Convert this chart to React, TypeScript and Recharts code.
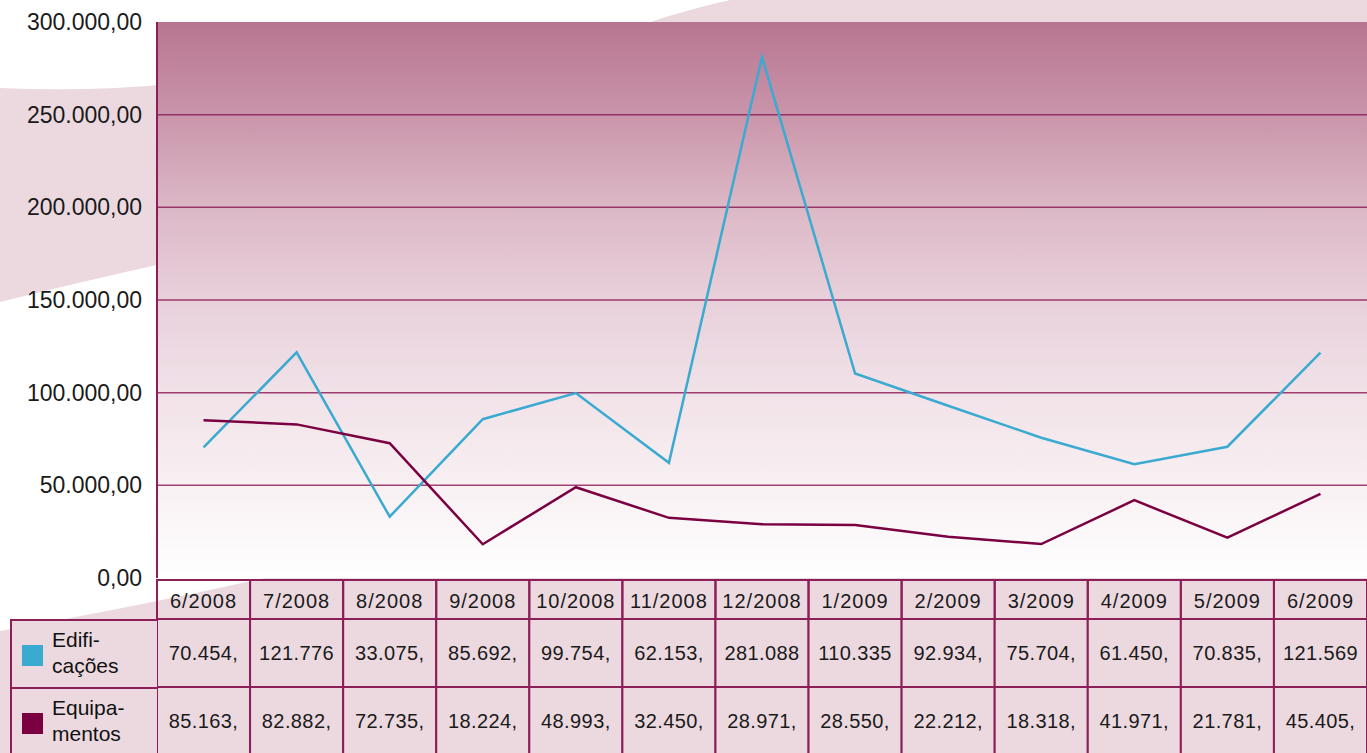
import React from "react";
import { LineChart, Line, XAxis, YAxis, CartesianGrid, Legend } from "recharts";

const months = [
  "6/2008", "7/2008", "8/2008", "9/2008", "10/2008", "11/2008", "12/2008",
  "1/2009", "2/2009", "3/2009", "4/2009", "5/2009", "6/2009",
];
const edificacoes = [70454, 121776, 33075, 85692, 99754, 62153, 281088, 110335, 92934, 75704, 61450, 70835, 121569];
const equipamentos = [85163, 82882, 72735, 18224, 48993, 32450, 28971, 28550, 22212, 18318, 41971, 21781, 45405];
const yTicks = [0, 50000, 100000, 150000, 200000, 250000, 300000];
const gridValues = [50000, 100000, 150000, 200000, 250000];

const W = 1367;
const H = 753;
const LEFT = 157;
const TOP = 22;
const AXIS_H = 175;
const COL_W = (W - LEFT) / months.length;

const BLUE = "#3aaad1";
const WINE = "#7a0042";
const BORDER = "#8d1f58";
const PINK = "#ecd9e0";
const FONT = "'Liberation Sans', Arial, sans-serif";

const data = months.map((m, i) => ({ month: m, edif: edificacoes[i], equip: equipamentos[i] }));

// 70454 -> "70.454,00"
function fmtBR(v: number) {
  return String(Math.round(v)).replace(/\B(?=(\d{3})+(?!\d))/g, ".") + ",00";
}
// table cells are cut to 7 chars in the source
const cellText = (v: number) => fmtBR(v).slice(0, 7);

function TableTick(props: any) {
  const { x, y, payload, index } = props;
  const left = x - COL_W / 2;
  const row = data[index];
  const txt = { fontFamily: FONT, fontSize: 20, fill: "#1a1a1a", textAnchor: "middle" as const };
  return (
    <g>
      <rect x={left} y={y + 2} width={COL_W} height={39} fill="none" stroke={BORDER} strokeWidth={2} />
      <text x={x} y={y + 30} {...txt} letterSpacing={1}>{payload.value}</text>
      <rect x={left} y={y + 41} width={COL_W} height={68} fill={PINK} stroke={BORDER} strokeWidth={2} />
      <text x={x} y={y + 82} {...txt} letterSpacing={0.4}>{cellText(row.edif)}</text>
      <rect x={left} y={y + 109} width={COL_W} height={70} fill={PINK} stroke={BORDER} strokeWidth={2} />
      <text x={x} y={y + 150} {...txt} letterSpacing={0.4}>{cellText(row.equip)}</text>
    </g>
  );
}

const legendRows = [
  { color: BLUE, lines: ["Edifi-", "cações"] },
  { color: WINE, lines: ["Equipa-", "mentos"] },
];

function TableLegend() {
  return (
    <div style={{ position: "relative", width: 147, height: 136, fontFamily: FONT }}>
      {legendRows.map((r, i) => (
        <div
          key={i}
          style={{
            position: "absolute",
            left: 0,
            top: i * 68,
            width: 147,
            height: 68,
            boxSizing: "border-box",
            background: PINK,
            borderLeft: `2px solid ${BORDER}`,
            borderTop: `2px solid ${BORDER}`,
          }}
        >
          <div style={{ position: "absolute", left: 10, top: 24, width: 21, height: 21, background: r.color }} />
          <div style={{ position: "absolute", left: 40, top: 6, fontSize: 21, lineHeight: "26px", color: "#111", fontWeight: 500 }}>
            {r.lines[0]}
            <br />
            {r.lines[1]}
          </div>
        </div>
      ))}
    </div>
  );
}

function Backdrop() {
  return (
    <svg width={W} height={H} style={{ position: "absolute", left: 0, top: 0 }}>
      <path d="M0,88 Q90,92 170,84 L170,262 Q80,282 0,302 Z" fill={PINK} />
      <path d="M650,22 Q690,9 730,0 L1367,0 L1367,22 Z" fill={PINK} />
      <path d="M0,631 Q140,606 265,578 L1367,560 L1367,753 L0,753 Z" fill={PINK} />
    </svg>
  );
}

export default function App() {
  return (
    <div style={{ position: "absolute", left: 0, top: 0, width: W, height: H, background: "#fff", overflow: "hidden" }}>
      <Backdrop />
      <div style={{ position: "absolute", left: 0, top: 0 }}>
        <LineChart width={W} height={H} data={data} margin={{ top: TOP, right: 0, bottom: 0, left: 0 }}>
          <defs>
            <linearGradient id="plotBg" x1="0" y1="0" x2="0" y2="1">
              <stop offset="0" stopColor="#b87590" />
              <stop offset="0.167" stopColor="#c995aa" />
              <stop offset="0.333" stopColor="#dcb8c6" />
              <stop offset="0.5" stopColor="#e8d0da" />
              <stop offset="0.667" stopColor="#f1e2e8" />
              <stop offset="0.833" stopColor="#f8f0f3" />
              <stop offset="1" stopColor="#ffffff" />
            </linearGradient>
          </defs>
          <CartesianGrid
            vertical={false}
            horizontalValues={gridValues}
            fill="url(#plotBg)"
            fillOpacity={1}
            stroke="#8a1550"
            strokeOpacity={0.8}
            strokeWidth={1.5}
          />
          <XAxis
            dataKey="month"
            height={AXIS_H}
            padding={{ left: COL_W / 2, right: COL_W / 2 }}
            axisLine={false}
            tickLine={false}
            tickSize={0}
            tickMargin={0}
            interval={0}
            tick={<TableTick />}
          />
          <YAxis
            width={LEFT}
            domain={[0, 300000]}
            ticks={yTicks}
            tickFormatter={fmtBR}
            axisLine={{ stroke: BORDER, strokeWidth: 2 }}
            tickLine={false}
            tickMargin={9}
            tick={{ fontFamily: FONT, fontSize: 23, fill: "#1a1a1a" }}
          />
          <Line type="linear" dataKey="edif" name="Edificações" stroke={BLUE} strokeWidth={2.5} dot={false} isAnimationActive={false} />
          <Line type="linear" dataKey="equip" name="Equipamentos" stroke={WINE} strokeWidth={2.5} dot={false} isAnimationActive={false} />
          <Legend
            layout="horizontal"
            verticalAlign="middle"
            align="center"
            content={() => <TableLegend />}
            wrapperStyle={{ left: 10, top: 619, width: 147, height: 136 }}
          />
        </LineChart>
      </div>
    </div>
  );
}
